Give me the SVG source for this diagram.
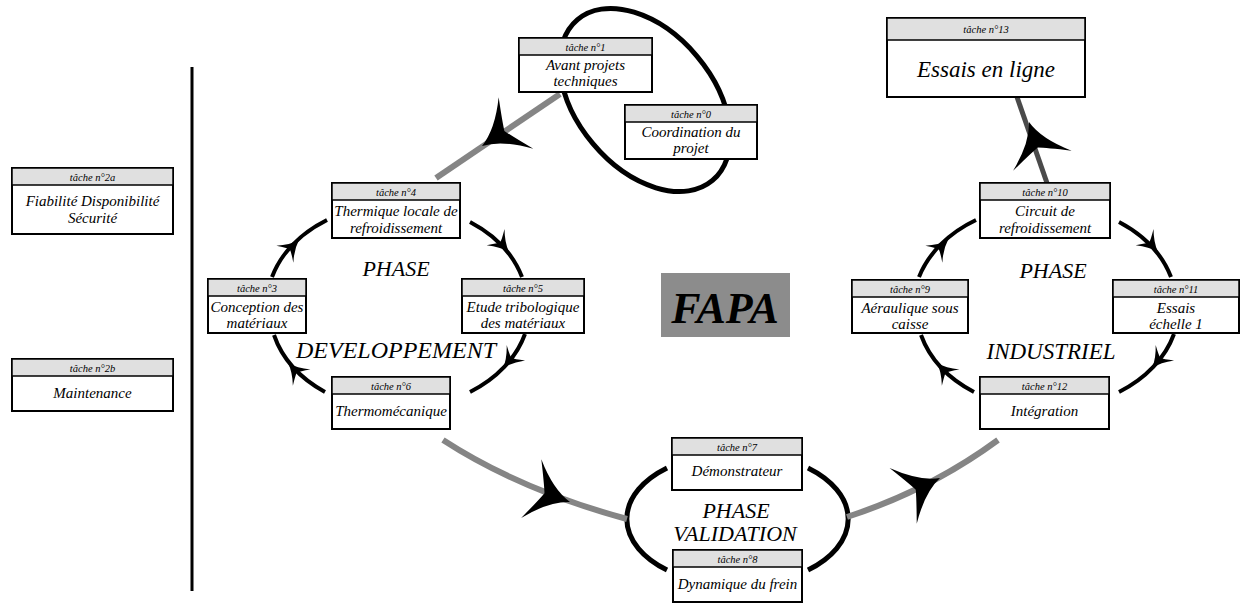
<svg xmlns="http://www.w3.org/2000/svg" xmlns:xlink="http://www.w3.org/1999/xlink" width="1250" height="606" viewBox="0 0 1250 606" font-family="Liberation Serif, DejaVu Serif, serif">
<style>
text{font-family:'Liberation Serif','DejaVu Serif',serif;font-style:italic;fill:#000;text-anchor:middle}
.bx{fill:#fff;stroke:#000;stroke-width:2}
.hd{fill:#e0e0e0;stroke:#000;stroke-width:1.5}
.ht{font-size:10.5px}
.bt{font-size:15px}
.ph{font-size:22px}
.cyc{fill:none;stroke:#000;stroke-width:4}
.big{fill:none;stroke:#858585;stroke-width:6}
.ring{fill:none;stroke:#000;stroke-width:5}
</style>
<defs>
<path id="sh" d="M0,0 Q-10,-3 -20,-12 Q-14,-3 -13,0 Q-14,3 -20,12 Q-10,3 0,0Z" fill="#000"/>
<path id="bh" d="M0,0 Q-20,-6 -41,-31 Q-30,-8 -27,0 Q-30,8 -41,31 Q-20,6 0,0Z" fill="#000"/>
</defs>
<rect width="1250" height="606" fill="#fff"/>

<g id="connectors">
<line x1="192" y1="67" x2="192" y2="591" stroke="#000" stroke-width="3"/>
<ellipse class="ring" cx="645" cy="100" rx="105" ry="68" transform="rotate(50 645 100)"/>
<path class="ring" d="M667,468 A110,66 0 0 0 667,570"/>
<path class="ring" d="M808,468 A110,66 0 0 1 808,570"/>
<path class="cyc" d="M470,222 A131,102 0 0 1 522,277"/>
<path class="cyc" d="M525,334 A131,102 0 0 1 470,392"/>
<path class="cyc" d="M325,392 A131,102 0 0 1 274,335"/>
<path class="cyc" d="M272,277 A131,102 0 0 1 327,220"/>
<use xlink:href="#sh" transform="translate(509,252) rotate(48)"/>
<use xlink:href="#sh" transform="translate(503,368) rotate(130)"/>
<use xlink:href="#sh" transform="translate(288,363) rotate(227)"/>
<use xlink:href="#sh" transform="translate(299,240) rotate(-45)"/>
<path class="cyc" d="M1119,222 A131,102 0 0 1 1171,277"/>
<path class="cyc" d="M1174,334 A131,102 0 0 1 1119,392"/>
<path class="cyc" d="M974,392 A131,102 0 0 1 921,335"/>
<path class="cyc" d="M919,277 A131,102 0 0 1 976,220"/>
<use xlink:href="#sh" transform="translate(1158,252) rotate(48)"/>
<use xlink:href="#sh" transform="translate(1152,368) rotate(130)"/>
<use xlink:href="#sh" transform="translate(937,363) rotate(227)"/>
<use xlink:href="#sh" transform="translate(948,240) rotate(-45)"/>
<path class="big" d="M560,94 L436,178"/>
<use xlink:href="#bh" transform="translate(482,146) rotate(146)"/>
<path class="big" d="M443,440 Q520,490 627,519"/>
<use xlink:href="#bh" transform="translate(570,502) rotate(19)"/>
<path class="big" d="M847,517 Q930,490 998,440"/>
<use xlink:href="#bh" transform="translate(940,478) rotate(-26)"/>
<path class="big" d="M1047,183 L1017,97" style="stroke:#4a4a4a;stroke-width:5"/>
<use xlink:href="#bh" transform="translate(1029,122) rotate(-109)"/>
</g>

<g id="t2a"><rect class="bx" x="12" y="168" width="161" height="66"/><rect class="hd" x="12" y="168" width="161" height="17"/><text class="ht" x="92.5" y="180.5">tâche n°2a</text><text class="bt" x="92.5" y="206">Fiabilité Disponibilité</text><text class="bt" x="92.5" y="223">Sécurité</text></g>
<g id="t2b"><rect class="bx" x="12" y="359" width="161" height="52"/><rect class="hd" x="12" y="359" width="161" height="17"/><text class="ht" x="92.5" y="371.5">tâche n°2b</text><text class="bt" x="92.5" y="398">Maintenance</text></g>
<g id="t1"><rect class="bx" x="519" y="38" width="133" height="54"/><rect class="hd" x="519" y="38" width="133" height="17"/><text class="ht" x="585.5" y="50.5">tâche n°1</text><text class="bt" x="585.5" y="70">Avant projets</text><text class="bt" x="585.5" y="86">techniques</text></g>
<g id="t0"><rect class="bx" x="625" y="105" width="132" height="54"/><rect class="hd" x="625" y="105" width="132" height="17"/><text class="ht" x="691" y="117.5">tâche n°0</text><text class="bt" x="691" y="137">Coordination du</text><text class="bt" x="691" y="153">projet</text></g>
<g id="t13"><rect class="bx" x="887" y="18" width="198" height="79"/><rect class="hd" x="887" y="18" width="198" height="22"/><text class="ht" x="986" y="33">tâche n°13</text><text x="986" y="77" style="font-size:23px">Essais en ligne</text></g>
<g id="t4"><rect class="bx" x="332" y="183" width="128" height="55"/><rect class="hd" x="332" y="183" width="128" height="17"/><text class="ht" x="396" y="195.5">tâche n°4</text><text class="bt" x="396" y="216">Thermique locale de</text><text class="bt" x="396" y="233">refroidissement</text></g>
<g id="t3"><rect class="bx" x="208" y="279" width="98" height="54"/><rect class="hd" x="208" y="279" width="98" height="17"/><text class="ht" x="257" y="291.5">tâche n°3</text><text class="bt" x="257" y="312">Conception des</text><text class="bt" x="257" y="328">matériaux</text></g>
<g id="t5"><rect class="bx" x="462" y="279" width="122" height="54"/><rect class="hd" x="462" y="279" width="122" height="17"/><text class="ht" x="523" y="291.5">tâche n°5</text><text class="bt" x="523" y="312">Etude tribologique</text><text class="bt" x="523" y="328">des matériaux</text></g>
<g id="t6"><rect class="bx" x="332" y="377" width="118" height="52"/><rect class="hd" x="332" y="377" width="118" height="17"/><text class="ht" x="391" y="389.5">tâche n°6</text><text class="bt" x="391" y="416">Thermomécanique</text></g>
<g id="t10"><rect class="bx" x="980" y="183" width="130" height="55"/><rect class="hd" x="980" y="183" width="130" height="17"/><text class="ht" x="1045" y="195.5">tâche n°10</text><text class="bt" x="1045" y="216">Circuit de</text><text class="bt" x="1045" y="233">refroidissement</text></g>
<g id="t9"><rect class="bx" x="852" y="280" width="116" height="53"/><rect class="hd" x="852" y="280" width="116" height="17"/><text class="ht" x="910" y="292.5">tâche n°9</text><text class="bt" x="910" y="313">Aéraulique sous</text><text class="bt" x="910" y="329">caisse</text></g>
<g id="t11"><rect class="bx" x="1113" y="280" width="126" height="53"/><rect class="hd" x="1113" y="280" width="126" height="17"/><text class="ht" x="1176" y="292.5">tâche n°11</text><text class="bt" x="1176" y="313">Essais</text><text class="bt" x="1176" y="329">échelle 1</text></g>
<g id="t12"><rect class="bx" x="980" y="377" width="129" height="52"/><rect class="hd" x="980" y="377" width="129" height="17"/><text class="ht" x="1044.5" y="389.5">tâche n°12</text><text class="bt" x="1044.5" y="416">Intégration</text></g>
<g id="t7"><rect class="bx" x="672" y="438" width="130" height="52"/><rect class="hd" x="672" y="438" width="130" height="17"/><text class="ht" x="737" y="450.5">tâche n°7</text><text class="bt" x="737" y="476">Démonstrateur</text></g>
<g id="t8"><rect class="bx" x="673" y="550" width="129" height="52"/><rect class="hd" x="673" y="550" width="129" height="17"/><text class="ht" x="737.5" y="562.5">tâche n°8</text><text class="bt" x="737.5" y="589">Dynamique du frein</text></g>

<g id="labels">
<text class="ph" x="396" y="276">PHASE</text>
<text class="ph" x="396" y="358" style="font-size:24px">DEVELOPPEMENT</text>
<text class="ph" x="1053" y="278">PHASE</text>
<text class="ph" x="1051" y="359" style="font-size:23px">INDUSTRIEL</text>
<text class="ph" x="736" y="518">PHASE</text>
<text class="ph" x="735" y="541">VALIDATION</text>
</g>
<g id="fapa"><rect x="661" y="273" width="129" height="64" fill="#8c8c8c"/><text x="725" y="323" font-weight="bold" font-size="44">FAPA</text></g>
</svg>
